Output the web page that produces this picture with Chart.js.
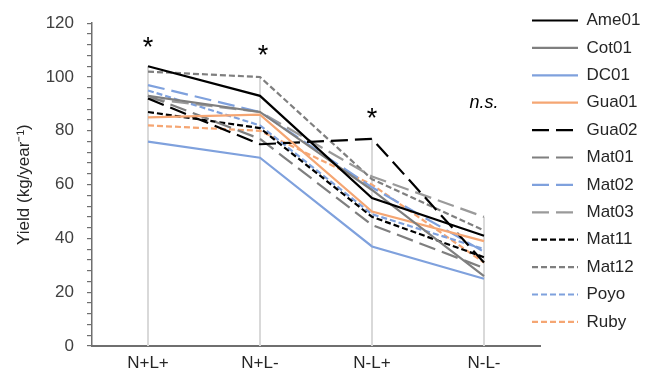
<!DOCTYPE html>
<html><head><meta charset="utf-8">
<script src="https://cdn.jsdelivr.net/npm/chart.js@4/dist/chart.umd.min.js"></script>
<style>html,body{margin:0;padding:0;background:#fff}</style>
</head><body>
<canvas id="c" width="645" height="384"></canvas>
<script>
const categories = ['N+L+', 'N+L-', 'N-L+', 'N-L-'];
const seriesNames = ['Ame01','Cot01','DC01','Gua01','Gua02','Mat01','Mat02','Mat03','Mat11','Mat12','Poyo','Ruby'];
const Ame01 = [104, 93, 55, 41];
const Cot01 = [93, 87, 58, 26];
const DC01  = [76, 70, 37, 25];
const Gua01 = [85, 86, 50, 39];
const Gua02 = [92, 75, 77, 31];
const Mat01 = [93, 77, 45, 29];
const Mat02 = [97, 87, 59, 35];
const Mat03 = [92, 87, 63, 48];
const Mat11 = [87, 81, 48, 33];
const Mat12 = [102, 100, 62, 43];
const Poyo  = [95, 82, 49, 36];
const Ruby  = [82, 80, 60, 31];
const seriesValues = [Ame01, Cot01, DC01, Gua01, Gua02, Mat01, Mat02, Mat03, Mat11, Mat12, Poyo, Ruby];
const yTicks = [0, 20, 40, 60, 80, 100, 120];
const annoLabels = ['*', '*', '*', 'n.s.'];
const annoValues = [112.5, 109.5, 86, 90.5];

const BLACK = '#000000', GREY = '#7f7f7f', LGREY = '#9a9a9a', BLUE = '#7fa1dd', ORANGE = '#f5a673';
const SOLID = [], LONG = [17, 7], SHORT = [6, 3];
const styles = [
  [BLACK, SOLID], [GREY, SOLID], [BLUE, SOLID], [ORANGE, SOLID],
  [BLACK, LONG], [GREY, LONG], [BLUE, LONG], [LGREY, LONG],
  [BLACK, SHORT], [GREY, SHORT], [BLUE, SHORT], [ORANGE, SHORT]
];
const FONT = "'Liberation Sans', Arial, sans-serif";

const datasets = seriesNames.map((n, i) => ({
  label: n,
  data: seriesValues[i],
  borderColor: styles[i][0],
  backgroundColor: styles[i][0],
  borderDash: styles[i][1],
  borderWidth: 2.2,
  pointRadius: 0,
  tension: 0,
  fill: false
}));

const dropLines = {
  id: 'dropLines',
  beforeDatasetsDraw(chart) {
    const {ctx, scales: {x, y}} = chart;
    ctx.save();
    ctx.strokeStyle = '#d9d9d9';
    ctx.lineWidth = 2;
    categories.forEach((c, i) => {
      const maxV = Math.max(...seriesValues.map(s => s[i]));
      const px = x.getPixelForValue(i);
      ctx.beginPath();
      ctx.moveTo(px, y.getPixelForValue(maxV));
      ctx.lineTo(px, y.getPixelForValue(0));
      ctx.stroke();
    });
    ctx.restore();
  }
};

const annotations = {
  id: 'annotations',
  afterDatasetsDraw(chart) {
    const {ctx, scales: {x, y}} = chart;
    ctx.save();
    ctx.fillStyle = '#000';
    ctx.textAlign = 'center';
    ctx.textBaseline = 'middle';
    annoLabels.forEach((t, i) => {
      const px = x.getPixelForValue(i);
      const py = y.getPixelForValue(annoValues[i]);
      if (t === '*') {
        ctx.font = '27px ' + FONT;
        ctx.fillText(t, px + (i === 1 ? 3 : 0), py + 5);
      } else {
        ctx.font = 'italic 18px ' + FONT;
        ctx.fillText(t, px, py);
      }
    });
    ctx.restore();
  }
};

const legendShift = {
  id: 'legendShift',
  afterLayout(chart) {
    const lg = chart.legend;
    if (!lg) return;
    lg.left -= 18.4;
    lg.top -= 14.4;
  }
};

new Chart(document.getElementById('c'), {
  type: 'line',
  data: { labels: categories, datasets },
  plugins: [dropLines, annotations, legendShift],
  options: {
    responsive: false,
    animation: false,
    devicePixelRatio: 1,
    layout: { padding: { top: 16, left: 0, right: 0, bottom: 0 } },
    plugins: {
      tooltip: { enabled: false },
      legend: {
        position: 'right',
        align: 'start',
        maxWidth: 105,
        labels: {
          font: { size: 17, family: FONT },
          color: '#262626',
          padding: 10.4,
          usePointStyle: true,
          pointStyleWidth: 46,
          generateLabels(chart) {
            return chart.data.datasets.map((ds, i) => ({
              text: ds.label,
              strokeStyle: ds.borderColor,
              fillStyle: 'rgba(0,0,0,0)',
              lineWidth: ds.borderWidth,
              lineDash: ds.borderDash,
              lineCap: 'butt',
              pointStyle: 'line',
              hidden: false,
              datasetIndex: i,
              fontColor: '#262626'
            }));
          }
        }
      }
    },
    scales: {
      x: {
        offset: true,
        grid: { display: true, drawOnChartArea: false, drawTicks: false },
        border: { display: true, color: '#6f6f6f', width: 2 },
        ticks: { font: { size: 17, family: FONT }, color: '#262626', padding: 7, maxRotation: 0 },
        afterFit(s) { s.height = 38; }
      },
      y: {
        min: 0, max: 120,
        afterBuildTicks(s) {
          const t = [];
          for (let v = 0; v <= 120; v += 4) t.push({ value: v });
          s.ticks = t;
        },
        ticks: {
          autoSkip: false,
          font: { size: 17, family: FONT },
          color: '#404040',
          padding: 13,
          callback: v => (yTicks.includes(v) ? String(v) : '')
        },
        grid: { drawOnChartArea: false, drawTicks: true, tickLength: 5, color: '#6f6f6f', lineWidth: 1.2 },
        border: { display: true, color: '#6f6f6f', width: 1.5 },
        title: { display: true, text: 'Yield (kg/year⁻¹)', font: { size: 17, family: FONT }, color: '#262626', padding: { top: 14 } },
        afterFit(s) { s.width = 92; }
      }
    }
  }
});
</script>
</body></html>
